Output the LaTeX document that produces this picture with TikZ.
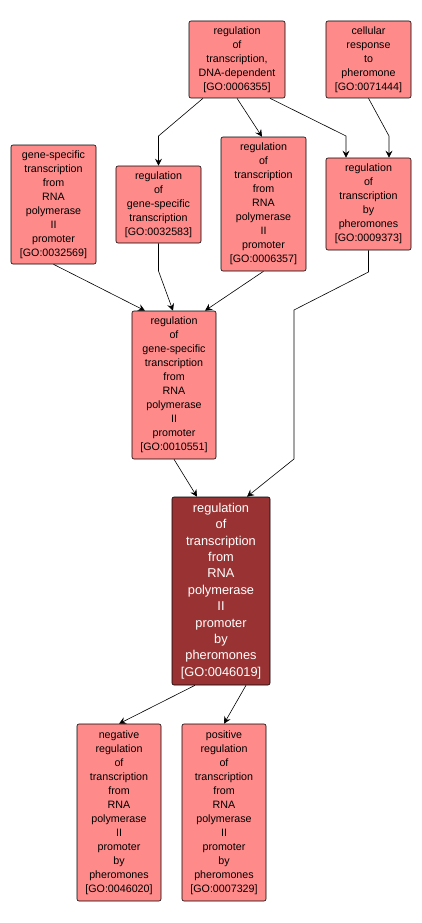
\documentclass[tikz,border=0pt]{standalone}
\usepackage{fontspec}
\setmainfont{Liberation Sans}
\usepackage{tikz}
\usetikzlibrary{arrows.meta, positioning, calc}
\definecolor{goLight}{HTML}{FF8A8A}
\definecolor{goDark}{HTML}{993333}

\tikzset{
    goterm/.style={draw=black, fill=goLight, rounded corners=2pt, line width=0.6pt,
        align=center, inner sep=0pt, font=\fontsize{10.7}{14}\selectfont},
    goquery/.style={goterm, fill=goDark, text=white, font=\fontsize{12.8}{16.4}\selectfont},
    golink/.style={->, line width=0.6pt}
}

\begin{document}
\begin{tikzpicture}[x=1pt, y=-1pt, >={Stealth[length=7pt, width=7pt, inset=2.5pt]}]

        \useasboundingbox[fill=white] (0,0) rectangle (421,923);

        % --- top row ---
        \node[goterm, minimum width=96pt, minimum height=77pt] (dnadep) at (237,59.5)
            {regulation\\of\\transcription,\\DNA-dependent\\ {[GO:0006355]}};
        \node[goterm, minimum width=85pt, minimum height=77pt] (phero) at (368.5,59.5)
            {cellular\\response\\to\\pheromone\\ {[GO:0071444]}};

        % --- second row ---
        \node[goterm, minimum width=85pt, minimum height=119pt] (gspec) at (53.5,204.5)
            {gene-specific\\transcription\\from\\RNA\\polymerase\\II\\promoter\\ {[GO:0032569]}};
        \node[goterm, minimum width=85pt, minimum height=77pt] (reggspec) at (158.5,204.5)
            {regulation\\of\\gene-specific\\transcription\\ {[GO:0032583]}};
        \node[goterm, minimum width=85pt, minimum height=134pt] (regpol) at (263.5,204)
            {regulation\\of\\transcription\\from\\RNA\\polymerase\\II\\promoter\\ {[GO:0006357]}};
        \node[goterm, minimum width=85pt, minimum height=92pt] (regphero) at (368.5,204)
            {regulation\\of\\transcription\\by\\pheromones\\ {[GO:0009373]}};

        % --- middle ---
        \node[goterm, minimum width=84pt, minimum height=148pt] (gspecpol) at (174,385)
            {regulation\\of\\gene-specific\\transcription\\from\\RNA\\polymerase\\II\\promoter\\ {[GO:0010551]}};
        \node[goquery, minimum width=98pt, minimum height=188pt] (query) at (221,591)
            {regulation\\of\\transcription\\from\\RNA\\polymerase\\II\\promoter\\by\\pheromones\\ {[GO:0046019]}};

        % --- children ---
        \node[goterm, minimum width=84pt, minimum height=177pt] (negreg) at (119,812.5)
            {negative\\regulation\\of\\transcription\\from\\RNA\\polymerase\\II\\promoter\\by\\pheromones\\ {[GO:0046020]}};
        \node[goterm, minimum width=84pt, minimum height=177pt] (posreg) at (224,812.5)
            {positive\\regulation\\of\\transcription\\from\\RNA\\polymerase\\II\\promoter\\by\\pheromones\\ {[GO:0007329]}};

        % --- links ---
        \draw[golink] ([xshift=-34pt]dnadep.south) -- (158.5,136) -- (reggspec.north);
        \draw[golink] (dnadep.south) -- ([xshift=-1.5pt]regpol.north);
        \draw[golink] ([xshift=33pt]dnadep.south) -- (346,136) -- ([xshift=-22.5pt]regphero.north);
        \draw[golink] (phero.south) -- (389,136) -- ([xshift=20.5pt]regphero.north);

        \draw[golink] (gspec.south) -- ([xshift=-29pt]gspecpol.north);
        \draw[golink] (reggspec.south) -- (158.5,271) -- ([xshift=-1pt]gspecpol.north);
        \draw[golink] (regpol.south) -- ([xshift=31pt]gspecpol.north);

        \draw[golink] (regphero.south) -- (368.5,272) -- (294,310) -- (294,459) -- ([xshift=26pt]query.north);
        \draw[golink] (gspecpol.south) -- ([xshift=-24pt]query.north);

        \draw[golink] ([xshift=-26pt]query.south) -- (negreg.north);
        \draw[golink] ([xshift=25pt]query.south) -- (posreg.north);
    \end{tikzpicture}
\end{document}
